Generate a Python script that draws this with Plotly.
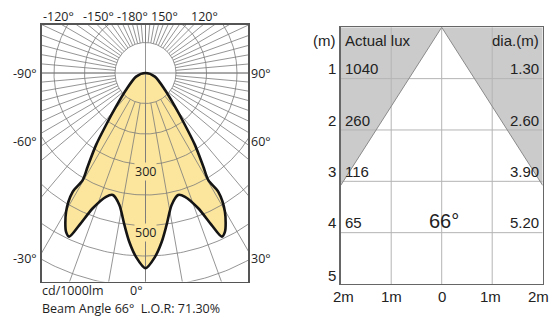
import numpy as np
import plotly.graph_objects as go

W, H = 549, 317

# ---------------- data ----------------
# Photometric curve, right half (degrees from nadir, cd/1000lm), mirrored for the left half
curve_angle = [0, 3.0, 5.5, 7.9, 11.2, 15.0, 17.7, 21.3, 23.5, 25.0, 26.6, 29.8, 31.5, 30.4,
               31.7, 34.5, 37.2, 41.2, 48.9, 68.7, 90]
curve_cd = [640, 603, 556, 503, 441, 414, 426, 476, 544, 592, 582, 524, 457, 407,
            361, 286, 214, 147, 85, 33, 0]
ring_values = [100, 200, 300, 400, 500, 600, 700]
ring_labels = [300, 500]
spoke_angles = [a for a in range(-175, 185, 5) if abs(a) >= 50 or a % 10 == 0]
top_labels = ["-120°", "-150°", "-180°", "150°", "120°"]
left_labels = ["-90°", "-60°", "-30°"]
right_labels = ["90°", "60°", "30°"]
unit_label = "cd/1000lm"
nadir_label = "0°"
beam_angle = 66
lor = 71.30

distances = [1, 2, 3, 4]
actual_lux = [1040, 260, 116, 65]
diameters = [1.30, 2.60, 3.90, 5.20]
depth_ticks = [1, 2, 3, 4, 5]
width_tick_vals = [-2, -1, 0, 1, 2]
width_tick_text = ["2m", "1m", "0", "1m", "2m"]

# ---------------- geometry ----------------
S = 0.305                 # px per cd
CX, CY = 145.5, 73.0      # polar centre (px)
BL, BR, BT, BB = 42, 248, 24.5, 281.5   # left box (px)
RL, RR, RT, RB = 340.7, 542.7, 27.3, 284.0  # right box (px)

LFONT = "Open Sans"
RFONT = "Liberation Sans"


def px(x, y):
    return x / W, 1 - y / H


fig = go.Figure()

# ---- polar curve (cartesian conversion) ----
ang = [-a for a in curve_angle[::-1]] + curve_angle[1:]
cds = curve_cd[::-1] + curve_cd[1:]
th = np.radians(ang)
cx = np.array(cds) * np.sin(th)
cy = -np.array(cds) * np.cos(th)

fig.add_trace(go.Scatter(x=cx, y=cy, mode="lines", fill="toself",
                         fillcolor="#fce69e", line=dict(color="rgba(0,0,0,0)", shape="spline", smoothing=0.8),
                         hoverinfo="skip", showlegend=False, xaxis="x", yaxis="y"))

# ---- polar grid ----
gx, gy = [], []
t = np.linspace(0, 2 * np.pi, 361)
for rv in ring_values:
    gx += list(rv * np.cos(t)) + [None]
    gy += list(rv * np.sin(t)) + [None]
for a in spoke_angles:
    r = np.radians(a)
    r0 = ring_values[0]
    gx += [r0 * np.sin(r), 2000 * np.sin(r), None]
    gy += [-r0 * np.cos(r), -2000 * np.cos(r), None]
# full axes through centre
gx += [0, 0, None, -2000, 2000, None]
gy += [-2000, 2000, None, 0, 0, None]
fig.add_trace(go.Scatter(x=gx, y=gy, mode="lines", line=dict(color="#7a7a7a", width=0.8),
                         hoverinfo="skip", showlegend=False, xaxis="x", yaxis="y"))

fig.add_trace(go.Scatter(x=cx, y=cy, mode="lines",
                         line=dict(color="#151515", width=2.6, shape="spline", smoothing=0.8),
                         hoverinfo="skip", showlegend=False, xaxis="x", yaxis="y"))

# ---- beam cone diagram ----
half = np.tan(np.radians(beam_angle / 2))
d_edge = 2 / half
fig.add_trace(go.Scatter(x=[-2, 0, -2, -2], y=[0, 0, d_edge, 0], mode="lines", fill="toself",
                         fillcolor="#cbcbcb", line=dict(width=0), hoverinfo="skip",
                         showlegend=False, xaxis="x2", yaxis="y2"))
fig.add_trace(go.Scatter(x=[2, 0, 2, 2], y=[0, 0, d_edge, 0], mode="lines", fill="toself",
                         fillcolor="#cbcbcb", line=dict(width=0), hoverinfo="skip",
                         showlegend=False, xaxis="x2", yaxis="y2"))
hx, hy = [], []
for d in depth_ticks[:-1]:
    hx += [-2, 2, None]
    hy += [d, d, None]
for v in width_tick_vals[1:-1]:
    hx += [v, v, None]
    hy += [0, 5, None]
fig.add_trace(go.Scatter(x=hx, y=hy, mode="lines", line=dict(color="#b4b4b4", width=1),
                         hoverinfo="skip", showlegend=False, xaxis="x2", yaxis="y2"))
fig.add_trace(go.Scatter(x=[-2, 0, 2], y=[d_edge, 0, d_edge], mode="lines",
                         line=dict(color="#8a8a8a", width=1),
                         hoverinfo="skip", showlegend=False, xaxis="x2", yaxis="y2"))

# ---------------- axes ----------------
ax_common = dict(showgrid=False, zeroline=False, showticklabels=False, ticks="",
                 showline=True, mirror=True, fixedrange=True)
fig.update_layout(
    width=W, height=H, margin=dict(l=0, r=0, t=0, b=0),
    paper_bgcolor="white", plot_bgcolor="white", showlegend=False,
    xaxis=dict(domain=[BL / W, BR / W], range=[(BL - CX) / S, (BR - CX) / S],
               linecolor="#555555", linewidth=1.6, **ax_common),
    yaxis=dict(domain=[1 - BB / H, 1 - BT / H], range=[-(BB - CY) / S, (CY - BT) / S],
               linecolor="#555555", linewidth=1.6, **ax_common),
    xaxis2=dict(domain=[RL / W, RR / W], range=[-2, 2], anchor="y2",
                linecolor="#666666", linewidth=1.4, **ax_common),
    yaxis2=dict(domain=[1 - RB / H, 1 - RT / H], range=[5, 0], anchor="x2",
                linecolor="#666666", linewidth=1.4, **ax_common),
)

ann = []


def A(text, x, y, xanchor="center", size=12.5, family=LFONT, **kw):
    fx, fy = px(x, y)
    ann.append(dict(text=text, x=fx, y=fy, xref="paper", yref="paper", xanchor=xanchor,
                    yanchor="middle", showarrow=False, borderpad=0,
                    font=dict(family=family, size=size, color="#1e1e1e"), **kw))


for lab, x in zip(top_labels, [58, 98, 132, 164.5, 204.5]):
    A(lab, x, 16.5)
for lab, y in zip(left_labels, [73, 141.5, 258]):
    A(lab, 38, y, xanchor="right")
for lab, y in zip(right_labels, [73, 141.5, 258]):
    A(lab, 250, y, xanchor="left")
A(unit_label, 41, 290.6, xanchor="left", size=12.5)
A(nadir_label, 136.5, 290.6, size=12.5)
A(f"Beam Angle {beam_angle}°  L.O.R: {lor:.2f}%", 41, 308.2, xanchor="left", size=12.5)

for rv in ring_labels:
    ann.append(dict(text=str(rv), x=0, y=-rv, xref="x", yref="y", yshift=-7,
                    showarrow=False, bgcolor="#fce69e", borderpad=0,
                    font=dict(family=LFONT, size=12.5, color="#1e1e1e")))

# right panel texts
RF = dict(family=RFONT, size=15, color="#222222")


def B(text, x, y, xanchor, xshift=0, font=RF):
    ann.append(dict(text=text, x=x, y=y, xref="x2", yref="y2", xanchor=xanchor,
                    yanchor="middle", xshift=xshift, showarrow=False, font=font))


B("(m)", -2, 0.25, "right", -3)
B("Actual lux", -2, 0.25, "left", 2)
B("dia.(m)", 2, 0.25, "right", -2)
for d in depth_ticks:
    B(str(d), -2, d - 0.19 if d < 5 else 4.84, "right", -3)
for d, lx, dm in zip(distances, actual_lux, diameters):
    B(str(lx), -2, d - 0.19, "left", 2)
    B(f"{dm:.2f}", 2, d - 0.19, "right", -2)
B(f"{beam_angle}°", 0, 3.77, "center", 2, font=dict(family=RFONT, size=20, color="#222222"))
for v, tx, sh in zip(width_tick_vals, width_tick_text, [3, 0, 0, -2, -4]):
    ann.append(dict(text=tx, x=v, y=1 - 296.7 / H, xref="x2", yref="paper", yanchor="middle",
                    xanchor="center", xshift=sh, showarrow=False, font=RF))

fig.update_layout(annotations=ann)
fig.write_html("out.html", config={"displayModeBar": False, "staticPlot": True},
               post_script="document.body.style.margin='0';document.body.style.overflow='hidden';")
